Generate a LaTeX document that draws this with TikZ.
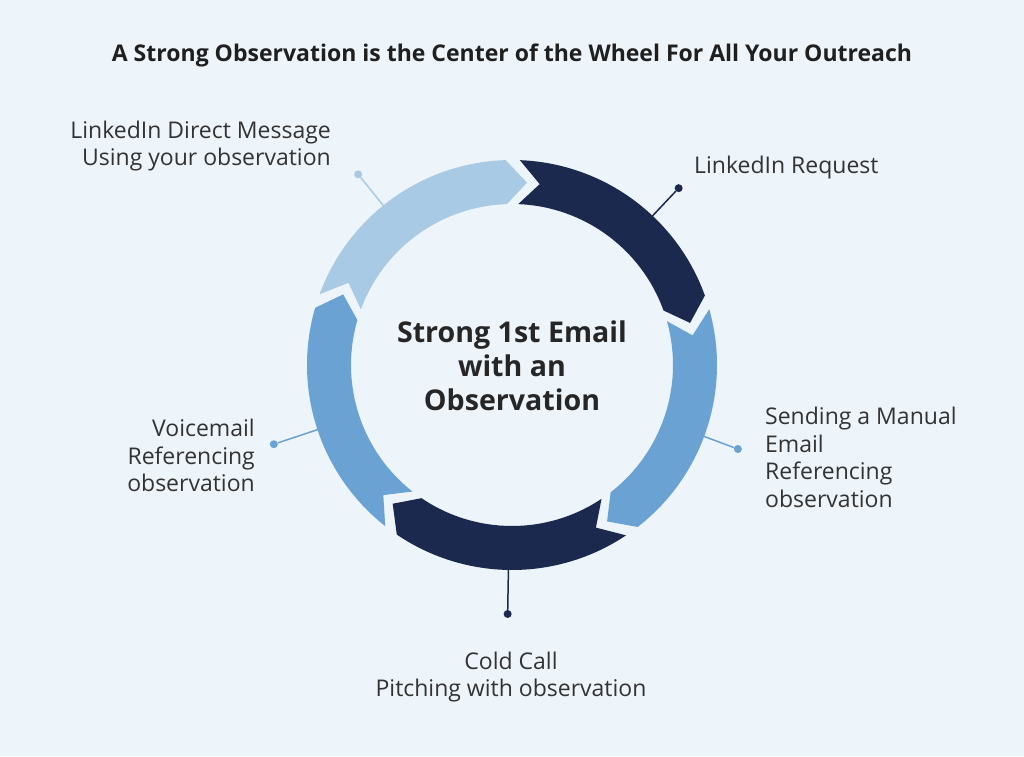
\documentclass[tikz,border=0pt]{standalone}
\usepackage{fontspec}
\setmainfont{Open Sans}
\definecolor{wheelbg}{RGB}{237,244,250}
\definecolor{navy}{RGB}{28,41,79}
\definecolor{midblue}{RGB}{106,162,212}
\definecolor{paleblue}{RGB}{168,202,228}
\definecolor{inkgrey}{RGB}{51,51,51}
\tikzset{
  leader/.style={line width=1.5pt},
  tipdot/.style={circle, inner sep=0pt, minimum size=8pt},
  steplabel/.style={text=inkgrey, inner sep=0pt, font=\fontsize{23}{27.7}\selectfont},
}
\begin{document}
\begin{tikzpicture}[x=1pt, y=1pt]
    \fill[wheelbg] (-512,-391) rectangle (512,365);
    \useasboundingbox (-512,-391) rectangle (512,365);

    \node[font=\bfseries\fontsize{23}{27}\selectfont, text=black!88] (title) at (0,310)
        {A Strong Observation is the Center of the Wheel For All Your Outreach};

    % leaders
    \coordinate (r1) at (46.7:198);
    \node[tipdot, fill=navy] (d1) at (46.7:243) {};
    \draw[leader, navy] (r1) -- (d1);

    \coordinate (r2) at (-20.4:198);
    \node[tipdot, fill=midblue] (d2) at (-20.4:241) {};
    \draw[leader, midblue] (r2) -- (d2);

    \coordinate (r3) at (-91:198);
    \node[tipdot, fill=navy] (d3) at (-91:249) {};
    \draw[leader, navy] (r3) -- (d3);

    \coordinate (r4) at (198.4:198);
    \node[tipdot, fill=midblue] (d4) at (198.4:251) {};
    \draw[leader, midblue] (r4) -- (d4);

    \coordinate (r5) at (128.9:198);
    \node[tipdot, fill=paleblue] (d5) at (128.9:245) {};
    \draw[leader, paleblue] (r5) -- (d5);

    % ring
    \fill[navy] (87.8:205) arc[start angle=87.8, end angle=19.8, radius=205]
        -- (13.3:183) -- (19.8:161) arc[start angle=19.8, end angle=87.8, radius=161]
        -- (81.3:183) -- cycle;
    \fill[midblue] (15.8:205) arc[start angle=15.8, end angle=-52.2, radius=205]
        -- (-58.7:183) -- (-52.2:161) arc[start angle=-52.2, end angle=15.8, radius=161]
        -- (9.3:183) -- cycle;
    \fill[navy] (-56.2:205) arc[start angle=-56.2, end angle=-124.2, radius=205]
        -- (-130.7:183) -- (-124.2:161) arc[start angle=-124.2, end angle=-56.2, radius=161]
        -- (-62.7:183) -- cycle;
    \fill[midblue] (-128.2:205) arc[start angle=-128.2, end angle=-196.2, radius=205]
        -- (-202.7:183) -- (-196.2:161) arc[start angle=-196.2, end angle=-128.2, radius=161]
        -- (-134.7:183) -- cycle;
    \fill[paleblue] (159.8:205) arc[start angle=159.8, end angle=91.8, radius=205]
        -- (85.3:183) -- (91.8:161) arc[start angle=91.8, end angle=159.8, radius=161]
        -- (153.3:183) -- cycle;

    \node[font=\bfseries\fontsize{28.6}{34}\selectfont, text=black!85, align=center] (hub) at (0,-1)
        {Strong 1st Email\\with an\\Observation};

    % labels
    \node[steplabel, anchor=west] (linkreq) at (182,197) {LinkedIn Request};
    \node[steplabel, anchor=west, align=left] (manual) at (253,-92.5)
        {Sending a Manual\\Email\\Referencing\\observation};
    \node[steplabel, align=center] (cold) at (-1,-312)
        {Cold Call\\Pitching with observation};
    \node[steplabel, anchor=east, align=right] (voice) at (-257,-90.5)
        {Voicemail\\Referencing\\observation};
    \node[steplabel, anchor=east, align=right] (linkdm) at (-181,219)
        {LinkedIn Direct Message\\Using your observation};
\end{tikzpicture}
\end{document}
